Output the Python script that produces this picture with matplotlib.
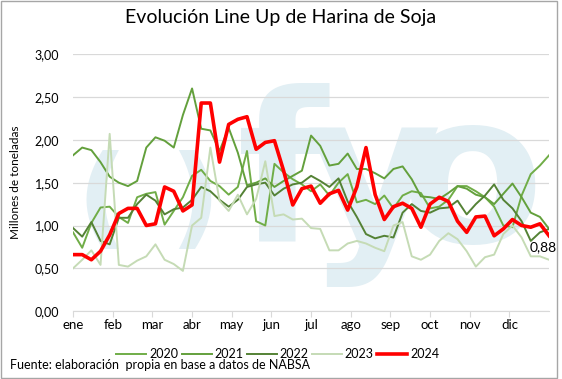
import numpy as np
import matplotlib.pyplot as plt
from matplotlib.patches import Rectangle

meses = ['ene', 'feb', 'mar', 'abr', 'may', 'jun', 'jul', 'ago', 'sep', 'oct', 'nov', 'dic']

# line up semanal (millones de toneladas), 53 semanas
s2020 = [0.92, 0.74, 1.03, 1.21, 1.22, 1.10, 1.03, 1.33, 1.37, 1.39, 1.01, 1.17, 1.33,
         1.58, 1.65, 1.52, 1.46, 1.36, 1.45, 1.87, 1.05, 1.00, 1.72, 1.62, 1.54, 1.48,
         1.40, 1.48, 1.35, 1.50, 1.60, 1.27, 1.30, 1.25, 1.35, 1.20, 1.35, 1.40, 1.38,
         1.20, 1.22, 1.30, 1.46, 1.46, 1.40, 1.33, 1.22, 1.00, 0.98, 1.35, 1.60, 1.70, 1.82]
s2021 = [1.82, 1.91, 1.88, 1.74, 1.57, 1.50, 1.46, 1.52, 1.91, 2.03, 1.99, 1.91, 2.29,
         2.60, 2.13, 2.11, 1.87, 2.14, 1.85, 1.47, 1.50, 1.55, 1.45, 1.52, 1.58, 1.64,
         2.05, 1.93, 1.70, 1.72, 1.84, 1.66, 1.66, 1.61, 1.55, 1.66, 1.69, 1.54, 1.34,
         1.33, 1.31, 1.38, 1.46, 1.43, 1.36, 1.33, 1.25, 1.37, 1.49, 1.33, 1.15, 1.10, 0.96]
s2022 = [0.97, 0.87, 1.04, 0.82, 0.78, 1.09, 1.09, 1.25, 1.36, 1.29, 1.13, 1.19, 1.21,
         1.30, 1.45, 1.40, 1.30, 1.22, 1.30, 1.45, 1.48, 1.50, 1.35, 1.43, 1.48, 1.50,
         1.58, 1.52, 1.45, 1.55, 1.28, 1.10, 0.90, 0.85, 0.88, 0.86, 1.15, 1.25, 1.17,
         1.15, 1.20, 1.21, 1.29, 1.13, 1.25, 1.35, 1.48, 1.30, 1.20, 1.05, 0.82, 0.92, 0.96]
s2023 = [0.50, 0.60, 0.71, 0.54, 2.07, 0.54, 0.52, 0.59, 0.64, 0.78, 0.60, 0.55, 0.47,
         1.00, 1.09, 1.91, 1.29, 1.17, 1.36, 1.13, 1.31, 1.75, 1.11, 1.13, 1.07, 1.08,
         0.97, 0.96, 0.71, 0.71, 0.79, 0.82, 0.79, 0.74, 0.70, 1.00, 1.04, 0.64, 0.60,
         0.66, 0.82, 0.91, 0.84, 0.70, 0.52, 0.63, 0.66, 0.90, 1.00, 0.86, 0.64, 0.64, 0.60]
s2024 = [0.66, 0.66, 0.60, 0.70, 0.89, 1.14, 1.20, 1.20, 1.00, 1.02, 1.45, 1.40, 1.17,
         1.24, 2.43, 2.43, 1.74, 2.18, 2.24, 2.27, 1.89, 1.97, 1.99, 1.64, 1.24, 1.43,
         1.46, 1.26, 1.37, 1.41, 1.18, 1.45, 1.91, 1.36, 1.07, 1.22, 1.26, 1.20, 0.98,
         1.25, 1.33, 1.28, 1.05, 0.92, 1.10, 1.11, 0.88, 0.96, 1.07, 1.00, 0.98, 1.02, 0.88]

series = [('2020', s2020, '#70ad47', 1.4),
          ('2021', s2021, '#63a03c', 1.4),
          ('2022', s2022, '#548235', 1.4),
          ('2023', s2023, '#c5dbb5', 1.4),
          ('2024', s2024, '#ff0000', 2.6)]

plt.rcParams['font.family'] = ['Lato', 'DejaVu Sans']

fig = plt.figure(figsize=(5.62, 3.79), dpi=100)
ax = fig.add_axes([0.130, 0.179, 0.847, 0.678])

# marca de agua
wm = '#e2eff4'
for letra, xf, yf, fs in [('(', 0.06, 0.30, 80), (')', 0.255, 0.30, 80),
                          ('f', 0.44, 0.27, 150), ('y', 0.63, 0.27, 150), ('o', 0.84, 0.27, 150)]:
    ax.text(xf, yf, letra, transform=ax.transAxes, fontsize=fs, color=wm,
            ha='center', va='baseline', fontweight='bold', family='DejaVu Sans', zorder=0)

x = np.arange(len(s2024))
for nombre, valores, color, lw in series:
    ax.plot(x, valores, color=color, lw=lw, label=nombre, zorder=3)

ax.annotate('0,88', (x[-1], s2024[-1]), xytext=(-4, -8), textcoords='offset points',
            fontsize=10, ha='center', va='center', zorder=4)

ax.set_ylim(0, 3)
ax.set_xlim(0, 52)
ax.set_yticks(np.arange(0, 3.01, 0.5))
ax.set_yticklabels([f'{v:.2f}'.replace('.', ',') for v in np.arange(0, 3.01, 0.5)], fontsize=9)
ax.set_xticks(np.arange(12) * 52 / 12)
ax.set_xticklabels(meses, fontsize=9.5)
ax.tick_params(axis='y', length=0, pad=10)
ax.tick_params(axis='x', length=4, color='#d9d9d9', pad=2)
ax.grid(axis='y', color='#d9d9d9', lw=0.9)
ax.set_axisbelow(True)
for lado in ['left', 'right', 'top']:
    ax.spines[lado].set_visible(False)
ax.spines['bottom'].set_color('#d9d9d9')
ax.set_ylabel('Millones de toneladas', fontsize=8.5, labelpad=10)

fig.suptitle('Evolución Line Up de Harina de Soja', y=0.975, fontsize=14)
ax.legend(loc='upper center', bbox_to_anchor=(0.43, -0.1), ncol=5, frameon=False,
          fontsize=9, handlelength=2.4, columnspacing=0.3, handletextpad=0.2)
fig.text(0.018, 0.027, 'Fuente: elaboración  propia en base a datos de NABSA', fontsize=9)

fig.patches.append(Rectangle((0.001, 0.002), 0.99, 0.995, transform=fig.transFigure,
                             fill=False, edgecolor='#a6a6a6', lw=1))

fig.savefig('out.png', dpi=100)
